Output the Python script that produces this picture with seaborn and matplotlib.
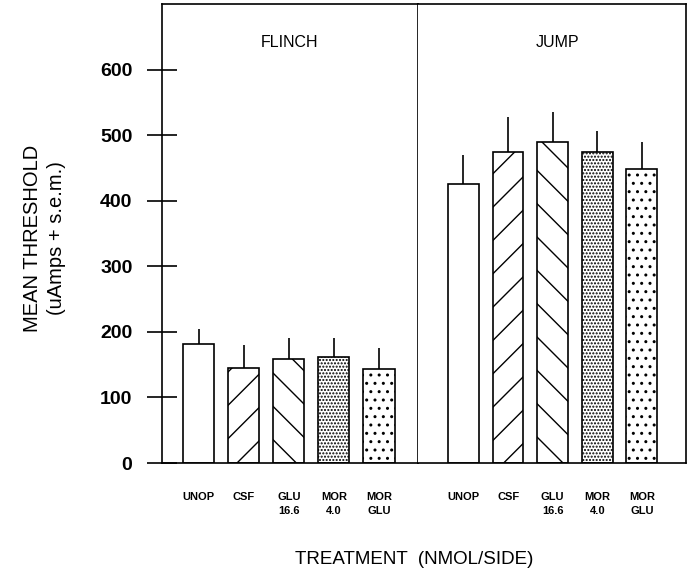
import matplotlib
matplotlib.use("Agg")
import matplotlib.pyplot as plt
import seaborn as sns

# ---------------- DATA ----------------
treatments = ["UNOP", "CSF", "GLU\n16.6", "MOR\n4.0", "MOR\nGLU"]
flinch_mean = [181, 145, 158, 162, 144]
flinch_sem = [24, 35, 33, 29, 32]
jump_mean = [426, 475, 490, 475, 449]
jump_sem = [43, 52, 46, 32, 40]
y_ticks = [0, 100, 200, 300, 400, 500, 600]

hatches = ["", "/", "\\", ".....", ".."]

# ---------------- STYLE ----------------
sns.set_style("white")
plt.rcParams["font.family"] = ["Liberation Sans", "DejaVu Sans"]
plt.rcParams["text.color"] = "black"
plt.rcParams["axes.labelcolor"] = "black"
plt.rcParams["xtick.color"] = "black"
plt.rcParams["ytick.color"] = "black"
plt.rcParams["hatch.linewidth"] = 1.0
plt.rcParams["axes.linewidth"] = 1.2

fig = plt.figure(figsize=(6.92, 5.77), dpi=100)
ax_l = fig.add_axes([162 / 692, 114 / 577, 256 / 692, 459 / 577])
ax_r = fig.add_axes([418 / 692, 114 / 577, 268 / 692, 459 / 577])


def draw_panel(ax, means, sems, title, title_x):
    sns.barplot(x=treatments, y=means, color="white", edgecolor="black",
                linewidth=1.2, width=0.69, errorbar=None, ax=ax)
    for patch, h in zip(ax.patches, hatches):
        patch.set_hatch(h)
    ax.errorbar(range(len(means)), means, yerr=[[0] * len(sems), sems],
                fmt="none", ecolor="black", elinewidth=1.2, capsize=0)
    ax.set_ylim(0, 700)
    for s in ax.spines.values():
        s.set_visible(True)
        s.set_color("black")
        s.set_linewidth(1.2)
    ax.tick_params(axis="x", length=0, pad=21)
    for lab in ax.get_xticklabels():
        lab.set_fontsize(8)
        lab.set_fontweight("bold")
        lab.set_linespacing(1.5)
        lab.set_color("black")
    ax.text(title_x, 0.917, title, transform=ax.transAxes, ha="center",
            va="center", fontsize=11.5, color="black")


draw_panel(ax_l, flinch_mean, flinch_sem, "FLINCH", 0.5)
draw_panel(ax_r, jump_mean, jump_sem, "JUMP", 0.519)

ax_l.set_xlim(-0.81, 4.865)
ax_r.set_xlim(-1.02, 4.99)

ax_l.set_yticks(y_ticks)
ax_l.set_yticklabels([str(v) for v in y_ticks], fontsize=14, fontweight="bold",
                     color="black")
ax_l.tick_params(axis="y", direction="inout", length=21.6, width=1.2,
                 left=True, pad=10.5)
ax_l.set_ylabel("MEAN THRESHOLD\n(uAmps + s.e.m.)", fontsize=14.5,
                linespacing=1.35, color="black")
ax_l.yaxis.set_label_coords(-0.375, 0.49)

ax_r.set_yticks([])
ax_r.spines["left"].set_visible(False)
ax_r.set_ylabel("")

fig.text(414 / 692, 1 - 560 / 577, "TREATMENT  (NMOL/SIDE)", ha="center",
         va="center", fontsize=13.5, color="black")

fig.savefig("out.png", dpi=100)
